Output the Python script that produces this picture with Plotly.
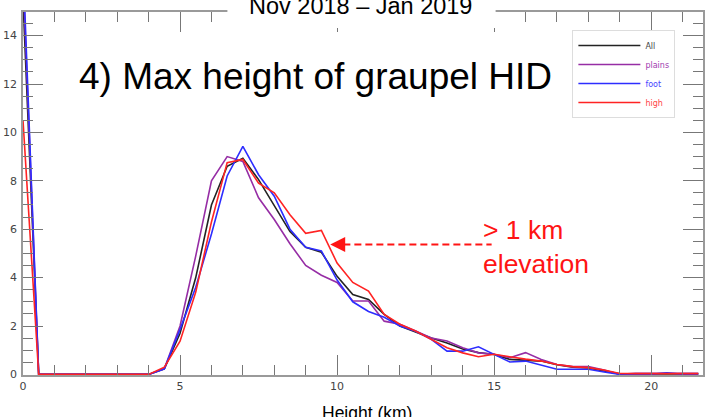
import plotly.graph_objects as go

# Height bins (km), 0.5 km spacing
height_km = [0.0, 0.5, 1.0, 1.5, 2.0, 2.5, 3.0, 3.5, 4.0, 4.5, 5.0, 5.5, 6.0, 6.5, 7.0,
             7.5, 8.0, 8.5, 9.0, 9.5, 10.0, 10.5, 11.0, 11.5, 12.0, 12.5, 13.0, 13.5,
             14.0, 14.5, 15.0, 15.5, 16.0, 16.5, 17.0, 17.5, 18.0, 18.5, 19.0, 19.5,
             20.0, 20.5, 21.0, 21.5]

# Percent of cases whose maximum graupel height falls in each bin
all_pct = [15.5, 0, 0, 0, 0, 0, 0, 0, 0, 0.23, 1.7, 4.0, 7.0, 8.6, 8.93,
           8.05, 7.0, 5.9, 5.25, 5.05, 4.05, 3.3, 3.1, 2.48, 2.0, 1.75, 1.5, 1.3,
           1.05, 0.9, 0.82, 0.62, 0.6, 0.55, 0.4, 0.3, 0.27, 0.15, 0.02, 0.02,
           0.02, 0.02, 0.02, 0.02]
plains_pct = [16.5, 0, 0, 0, 0, 0, 0, 0, 0, 0.23, 2.0, 4.9, 8.0, 9.0, 8.8,
              7.3, 6.4, 5.4, 4.5, 4.1, 3.8, 3.03, 3.03, 2.2, 2.07, 1.79, 1.5, 1.38,
              1.1, 0.89, 0.83, 0.69, 0.9, 0.62, 0.41, 0.32, 0.32, 0.18, 0.0, 0.05,
              0.05, 0.05, 0.05, 0.05]
foot_pct = [17.0, 0, 0, 0, 0, 0, 0, 0, 0, 0.23, 1.86, 3.6, 5.8, 8.2, 9.42,
            8.25, 7.36, 6.0, 5.25, 5.1, 3.9, 3.0, 2.6, 2.36, 2.0, 1.78, 1.45, 0.96,
            0.96, 1.14, 0.83, 0.51, 0.55, 0.37, 0.21, 0.21, 0.21, 0.1, 0.0, 0.0,
            0.0, 0.07, 0.0, 0.0]
high_pct = [10.5, 0, 0, 0, 0, 0, 0, 0, 0, 0.3, 1.37, 3.4, 6.3, 8.75, 8.88,
            7.9, 7.5, 6.6, 5.83, 5.95, 4.6, 3.8, 3.44, 2.48, 2.07, 1.79, 1.45, 1.1,
            0.89, 0.73, 0.83, 0.72, 0.63, 0.55, 0.41, 0.32, 0.28, 0.18, 0.04, 0.03,
            0.03, 0.03, 0.03, 0.03]

series = [
    ("All", all_pct, "rgb(35,35,35)", None),
    ("plains", plains_pct, "rgb(150,45,165)", "rgb(160,60,175)"),
    ("foot", foot_pct, "rgb(45,45,255)", "rgb(70,70,255)"),
    ("high", high_pct, "rgb(255,35,35)", "rgb(255,70,70)"),
]

fig = go.Figure()
for name, vals, color, txt in series:
    label = name if txt is None else f'<span style="color:{txt}">{name}</span>'
    fig.add_trace(go.Scatter(x=height_km, y=vals, mode="lines", name=label,
                             line=dict(color=color, width=1.6)))

W, H = 705, 417
ML, MR, MT, MB = 23, 0, 12, 42
PW, PH = W - ML - MR, H - MT - MB


def px_x(px):
    return (px - ML) / PW


def px_y(py):
    return (H - MB - py) / PH


tick_font = dict(family="DejaVu Sans", size=11, color="#444")
axis_common = dict(showline=True, linecolor="#9a9a9a", linewidth=1.5, mirror="ticks",
                   ticks="inside", ticklen=20, tickwidth=1.3, tickcolor="#777",
                   showgrid=False, zeroline=False, tickfont=tick_font)

fig.update_layout(
    width=W, height=H,
    margin=dict(l=ML, r=MR, t=MT, b=MB, pad=0),
    paper_bgcolor="white", plot_bgcolor="white",
    xaxis=dict(range=[0, 21.65], tick0=0, dtick=5,
               minor=dict(ticks="inside", ticklen=10, dtick=1, tickwidth=1.3, tickcolor="#777"),
               **axis_common),
    yaxis=dict(range=[-0.025, 14.975], tick0=0, dtick=2, ticklabelstandoff=2,
               minor=dict(ticks="inside", ticklen=10, dtick=0.5, tickwidth=1.3, tickcolor="#777"),
               **axis_common),
    legend=dict(x=px_x(574), y=px_y(30), xanchor="left", yanchor="top",
                bgcolor="white", bordercolor="#dddddd", borderwidth=1,
                font=dict(family="DejaVu Sans", size=8, color="#444"),
                itemwidth=62),
    showlegend=True,
)

arrow_y = 5.37
fig.add_shape(type="rect", xref="paper", yref="paper",
              x0=px_x(228), x1=px_x(497), y0=px_y(28), y1=px_y(-2),
              fillcolor="white", line=dict(width=0), layer="above")
fig.add_shape(type="line", xref="x", yref="y", x0=10.2, x1=14.92, y0=arrow_y, y1=arrow_y,
              line=dict(color="rgb(255,20,20)", width=2, dash="7px,4px"), layer="above")

text_font = "Liberation Sans, Arial"
fig.add_annotation(text="Nov 2018 – Jan 2019", xref="paper", yref="paper",
                   x=px_x(361), y=px_y(5.5), xanchor="center", yanchor="middle",
                   showarrow=False, font=dict(family=text_font, size=23.5, color="black"))
fig.add_annotation(text="4) Max height of graupel HID", xref="paper", yref="paper",
                   x=px_x(316), y=px_y(76), xanchor="center", yanchor="middle",
                   showarrow=False, font=dict(family=text_font, size=37, color="black"))
fig.add_annotation(text="> 1 km", xref="paper", yref="paper",
                   x=px_x(482), y=px_y(230), xanchor="left", yanchor="middle",
                   showarrow=False, font=dict(family=text_font, size=26.5, color="rgb(255,20,20)"))
fig.add_annotation(text="elevation", xref="paper", yref="paper",
                   x=px_x(482), y=px_y(264), xanchor="left", yanchor="middle",
                   showarrow=False, font=dict(family=text_font, size=26.5, color="rgb(255,20,20)"))
fig.add_annotation(x=9.78, y=arrow_y, ax=16, ay=0, xref="x", yref="y", text="",
                   showarrow=True, arrowhead=2, arrowsize=1.5, arrowwidth=2,
                   arrowcolor="rgb(255,20,20)")
fig.add_annotation(text="Height (km)", xref="paper", yref="paper",
                   x=px_x(368), y=px_y(413), xanchor="center", yanchor="middle",
                   showarrow=False, font=dict(family=text_font, size=17.5, color="black"))

fig.write_html("out.html")
